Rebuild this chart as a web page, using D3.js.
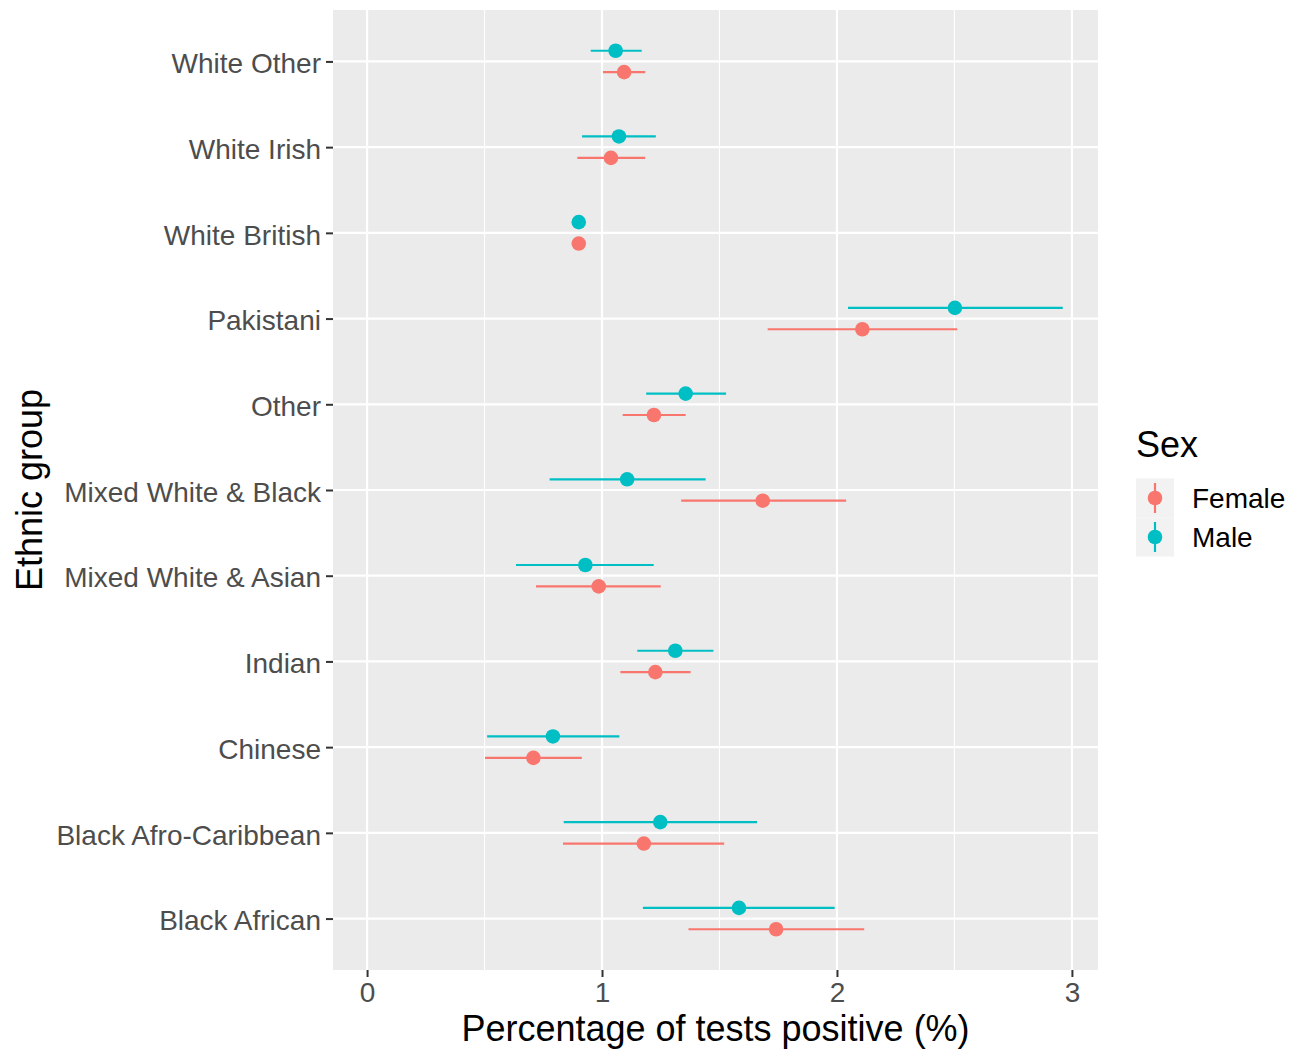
<!DOCTYPE html>
<html><head><meta charset="utf-8">
<script src="https://cdn.jsdelivr.net/npm/d3@7"></script>
<style>body{margin:0;background:#fff;} text{font-family:"Liberation Sans",Arial,sans-serif;}</style>
</head><body>
<svg id="c" width="1303" height="1049"></svg>
<script>
const categories = ["White Other","White Irish","White British","Pakistani","Other","Mixed White & Black","Mixed White & Asian","Indian","Chinese","Black Afro-Caribbean","Black African"];
const femaleEst = [1.094,1.038,0.901,2.108,1.221,1.684,0.986,1.227,0.708,1.178,1.741];
const femaleLo  = [1.004,0.895,0.890,1.705,1.088,1.337,0.719,1.078,0.502,0.834,1.368];
const femaleHi  = [1.184,1.184,0.912,2.512,1.356,2.039,1.250,1.377,0.914,1.520,2.116];
const maleEst = [1.058,1.072,0.901,2.502,1.356,1.107,0.929,1.312,0.791,1.248,1.583];
const maleLo  = [0.952,0.915,0.890,2.047,1.188,0.777,0.634,1.150,0.511,0.837,1.174];
const maleHi  = [1.169,1.229,0.912,2.961,1.528,1.441,1.220,1.474,1.074,1.660,1.990];
const sexes = ["Female","Male"];
const xTicks = [0,1,2,3];
const xMinor = [0.5,1.5,2.5];

const colors = {Female:"#F8766D", Male:"#00BFC4"};
const svg = d3.select("#c");
const L=333,R=1098,T=10,B=970;
const x = d3.scaleLinear().domain([-0.145,3.111]).range([L,R]);
const y = d3.scalePoint().domain(categories).range([T,B]).padding(0.6);
const dodge = {Male:-10.7, Female:10.7};

svg.append("rect").attr("x",L).attr("y",T).attr("width",R-L).attr("height",B-T).attr("fill","#EBEBEB");
const g = svg.append("g");
g.selectAll(".minor").data(xMinor).join("line").attr("x1",d=>x(d)).attr("x2",d=>x(d)).attr("y1",T).attr("y2",B).attr("stroke","#fff").attr("stroke-width",1.1);
g.selectAll(".major").data(xTicks).join("line").attr("x1",d=>x(d)).attr("x2",d=>x(d)).attr("y1",T).attr("y2",B).attr("stroke","#fff").attr("stroke-width",2.2);
g.selectAll(".hmaj").data(categories).join("line").attr("x1",L).attr("x2",R).attr("y1",d=>y(d)).attr("y2",d=>y(d)).attr("stroke","#fff").attr("stroke-width",2.2);

const data=[];
categories.forEach((c,i)=>{
  data.push({cat:c,sex:"Female",est:femaleEst[i],lo:femaleLo[i],hi:femaleHi[i]});
  data.push({cat:c,sex:"Male",est:maleEst[i],lo:maleLo[i],hi:maleHi[i]});
});
const marks = svg.append("g");
marks.selectAll(".ci").data(data).join("line")
  .attr("x1",d=>x(d.lo)).attr("x2",d=>x(d.hi))
  .attr("y1",d=>y(d.cat)+dodge[d.sex]).attr("y2",d=>y(d.cat)+dodge[d.sex])
  .attr("stroke",d=>colors[d.sex]).attr("stroke-width",2.2);
marks.selectAll(".pt").data(data).join("circle")
  .attr("cx",d=>x(d.est)).attr("cy",d=>y(d.cat)+dodge[d.sex]).attr("r",7.3)
  .attr("fill",d=>colors[d.sex]);

// axes
const xAxis = svg.append("g").attr("transform",`translate(0,${B})`)
  .call(d3.axisBottom(x).tickValues(xTicks).tickSize(7).tickPadding(5).tickFormat(d3.format("d")));
xAxis.select(".domain").remove();
xAxis.selectAll("line").attr("stroke","#333").attr("stroke-width",2);
xAxis.selectAll("text").attr("fill","#4D4D4D").style("font-size","28px").style("font-family","Liberation Sans, Arial, sans-serif");

const yAxis = svg.append("g").attr("transform",`translate(${L},0)`)
  .call(d3.axisLeft(y).tickSize(7).tickPadding(5));
yAxis.select(".domain").remove();
yAxis.selectAll("line").attr("stroke","#333").attr("stroke-width",2);
yAxis.selectAll("text").attr("fill","#4D4D4D").attr("dy","0.4em").style("font-size","28px").style("font-family","Liberation Sans, Arial, sans-serif");

svg.append("text").attr("x",(L+R)/2).attr("y",1041).attr("text-anchor","middle")
  .style("font-size","36px").attr("fill","#000").text("Percentage of tests positive (%)");
svg.append("text").attr("transform",`translate(42,${(T+B)/2}) rotate(-90)`).attr("text-anchor","middle")
  .style("font-size","36px").attr("fill","#000").text("Ethnic group");

// legend
const lg = svg.append("g");
lg.append("text").attr("x",1136).attr("y",457).style("font-size","36px").attr("fill","#000").text("Sex");
sexes.forEach((s,i)=>{
  const cy = 498 + i*39;
  lg.append("rect").attr("x",1136).attr("y",cy-19.5).attr("width",38).attr("height",39).attr("fill","#F2F2F2");
  lg.append("line").attr("x1",1155).attr("x2",1155).attr("y1",cy-15).attr("y2",cy+15).attr("stroke",colors[s]).attr("stroke-width",2.2);
  lg.append("circle").attr("cx",1155).attr("cy",cy).attr("r",7.3).attr("fill",colors[s]);
  lg.append("text").attr("x",1192).attr("y",cy+10).style("font-size","28px").attr("fill","#000").text(s);
});
</script>
</body></html>
